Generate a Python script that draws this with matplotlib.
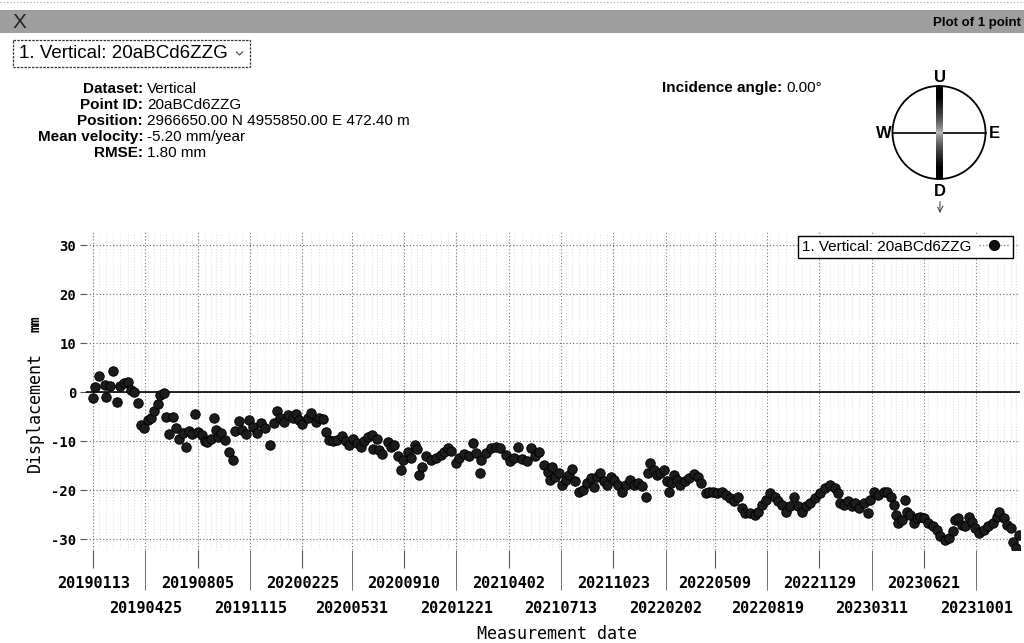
import matplotlib
matplotlib.use('Agg')
import matplotlib.pyplot as plt
import numpy as np
import pandas as pd
from matplotlib.lines import Line2D
from matplotlib.patches import Rectangle, Circle

# ---------------- data ----------------
start_date = "2019-01-13"

day_offsets = [
    0, 3, 12, 23, 25, 33, 38, 47, 53, 60, 68, 74, 80, 88, 93, 100, 106, 113, 119, 127,
    131, 139, 142, 148, 155, 162, 168, 175, 181, 187, 193, 199, 204, 213, 218, 222, 229, 235, 240, 244,
    249, 257, 265, 272, 276, 285, 291, 298, 304, 311, 319, 327, 335, 345, 352, 359, 364, 372, 380, 389,
    395, 402, 408, 418, 424, 434, 440, 449, 454, 460, 467, 476, 486, 492, 498, 507, 514, 522, 528, 535,
    543, 545, 553, 557, 564, 574, 580, 586, 594, 600, 605, 613, 619, 627, 632, 635, 642, 648, 658, 668,
    678, 684, 691, 697, 707, 713, 723, 733, 741, 746, 754, 757, 765, 775, 785, 794, 804, 812, 820, 828,
    837, 845, 853, 861, 869, 879, 886, 890, 895, 901, 908, 915, 921, 927, 934, 940, 947, 955, 963, 970,
    976, 983, 989, 996, 1002, 1009, 1016, 1023, 1031, 1038, 1046, 1054, 1062, 1070, 1077, 1081, 1086, 1093, 1099, 1106,
    1112, 1118, 1122, 1127, 1132, 1138, 1145, 1153, 1161, 1171, 1179, 1185, 1194, 1200, 1209, 1216, 1226, 1234, 1242, 1250,
    1258, 1265, 1271, 1281, 1291, 1297, 1304, 1312, 1320, 1330, 1336, 1343, 1351, 1359, 1367, 1375, 1382, 1390, 1398, 1408,
    1417, 1427, 1437, 1447, 1453, 1456, 1464, 1472, 1479, 1486, 1494, 1502, 1510, 1515, 1522, 1531, 1541, 1548, 1555, 1562,
    1565, 1570, 1576, 1583, 1586, 1593, 1600, 1606, 1612, 1620, 1628, 1637, 1645, 1652, 1661, 1669, 1676, 1680, 1687, 1693,
    1700, 1708, 1713, 1719, 1728, 1736, 1745, 1754, 1762, 1767, 1775, 1782, 1789, 1794, 1800, 1806,
]

displacement = [
    -1.1, 1.0, 3.4, 1.4, -0.9, 1.2, 4.4, -2.0, 1.3, 1.8, 2.0, 0.5, 0.0, -2.1, -6.7, -7.3, -5.6, -5.3, -3.9, -2.4,
    -0.5, -0.1, -5.1, -8.5, -5.1, -7.3, -9.5, -8.4, -11.1, -8.0, -8.5, -4.4, -8.2, -8.7, -9.9, -10.1, -9.5, -5.3, -7.7, -9.2,
    -8.4, -9.7, -12.3, -13.8, -8.0, -5.9, -7.7, -8.5, -5.6, -7.0, -8.4, -6.3, -7.3, -10.7, -6.3, -3.8, -5.3, -6.0, -4.6, -5.3,
    -4.5, -5.6, -6.5, -5.3, -4.3, -6.0, -5.3, -5.5, -8.2, -9.7, -10.0, -9.7, -8.9, -10.0, -10.7, -9.6, -10.3, -11.2, -10.0, -9.2,
    -8.7, -11.6, -9.5, -11.8, -12.6, -10.1, -11.2, -10.7, -13.1, -15.9, -13.8, -12.3, -13.5, -10.7, -11.6, -16.9, -15.2, -13.1, -13.8, -13.5,
    -12.8, -12.1, -11.4, -11.9, -14.5, -13.5, -12.6, -13.1, -10.3, -12.4, -16.4, -13.8, -12.4, -11.4, -11.2, -11.4, -12.8, -14.1, -13.5, -11.1,
    -13.7, -14.1, -11.4, -13.1, -12.1, -14.8, -16.2, -17.9, -15.2, -17.2, -16.5, -18.9, -17.9, -16.9, -15.7, -18.2, -20.3, -19.9, -18.6, -17.6,
    -19.3, -17.2, -16.5, -18.2, -18.9, -17.2, -17.9, -18.9, -20.3, -18.9, -18.0, -18.9, -18.6, -19.1, -21.4, -16.5, -14.5, -15.9, -16.9, -16.5,
    -15.9, -18.2, -20.3, -18.6, -16.9, -17.9, -18.9, -18.2, -17.6, -16.7, -17.2, -18.6, -20.6, -20.3, -20.3, -20.5, -20.3, -21.0, -21.6, -22.3,
    -21.3, -23.7, -24.6, -24.7, -25.0, -24.4, -23.0, -22.0, -20.6, -21.3, -22.3, -23.0, -24.4, -23.3, -21.4, -23.3, -24.4, -23.3, -22.7, -21.6,
    -20.6, -19.6, -18.9, -19.6, -20.6, -22.7, -23.0, -22.3, -23.3, -22.7, -23.7, -22.7, -24.7, -21.9, -20.3, -21.0, -20.3, -20.3, -21.3, -23.0,
    -25.0, -26.7, -26.1, -22.0, -24.4, -25.0, -26.7, -25.7, -25.4, -25.7, -26.6, -27.4, -28.1, -29.3, -30.1, -29.8, -28.4, -26.1, -25.7, -27.1,
    -27.4, -25.4, -26.4, -27.8, -28.8, -28.1, -27.4, -26.7, -25.4, -24.4, -25.7, -27.1, -27.8, -30.5, -31.8, -29.1,
]

row1_ticks = ["20190113", "20190805", "20200225", "20200910", "20210402",
              "20211023", "20220509", "20221129", "20230621"]
row2_ticks = ["20190425", "20191115", "20200531", "20201221", "20210713",
              "20220202", "20220819", "20230311", "20231001"]
y_ticks = [-30, -20, -10, 0, 10, 20, 30]

series_name = "1. Vertical: 20aBCd6ZZG"
info_labels = ["Dataset:", "Point ID:", "Position:", "Mean velocity:", "RMSE:"]
info_values = ["Vertical", "20aBCd6ZZG", "2966650.00 N 4955850.00 E 472.40 m",
               "-5.20 mm/year", "1.80 mm"]

# ---------------- figure ----------------
W, H = 1024, 643
fig = plt.figure(figsize=(W / 100, H / 100), dpi=100)
fig.patch.set_facecolor('white')

dates = pd.Timestamp(start_date) + pd.to_timedelta(day_offsets, unit='D')
t0 = pd.Timestamp(start_date)

ax_l, ax_r, ax_t, ax_b = 86, 1020, 232, 550
ax = fig.add_axes([ax_l / W, (H - ax_b) / H, (ax_r - ax_l) / W, (ax_b - ax_t) / H])

ylo, yhi = -32.2, 32.7
# dense vertical lines at each acquisition date
ax.vlines(dates[::2], ylo, yhi, colors='#cfcfcf', linestyles=(0, (1, 2.5)), linewidth=0.6, zorder=0)

ax.scatter(dates, displacement, s=46, c='#1c1c1c', edgecolors='black',
           linewidths=0.7, zorder=4)
ax.axhline(0, color='black', lw=1.2, zorder=3)

ax.set_ylim(ylo, yhi)
ax.set_xlim(t0 - pd.Timedelta(days=14), t0 + pd.Timedelta(days=1807))

ax.set_yticks(y_ticks)
ax.set_yticklabels([str(v) for v in y_ticks])
maj = pd.to_datetime(row1_ticks, format='%Y%m%d')
mnr = pd.to_datetime(row2_ticks, format='%Y%m%d')
ax.set_xticks(maj)
ax.set_xticklabels(row1_ticks)
ax.set_xticks(mnr, minor=True)
ax.set_xticklabels(row2_ticks, minor=True)

ax.grid(True, axis='y', ls=(0, (1, 2)), color='#666666', lw=0.8, zorder=1)
ax.grid(True, axis='x', which='both', ls=(0, (1, 2)), color='#777777', lw=0.8, zorder=1)
for s in ax.spines.values():
    s.set_visible(False)

ax.tick_params(axis='y', length=4, pad=3, color='#555555', labelsize=10)
ax.tick_params(axis='x', which='major', length=13, pad=6, color='#555555', labelsize=11)
ax.tick_params(axis='x', which='minor', length=29, pad=7.5, color='#555555', labelsize=11)
for lab in ax.get_xticklabels(which='both') + ax.get_yticklabels():
    lab.set_fontfamily('DejaVu Sans Mono')
    lab.set_fontweight('bold')

handle = Line2D([], [], color='#888888', ls=(0, (1, 1.5)), lw=1, marker='o', markersize=7,
                markerfacecolor='#111111', markeredgecolor='black')
leg = ax.legend([handle], [series_name], loc='upper right',
                bbox_to_anchor=(1 - 7 / (ax_r - ax_l), 1 - 4 / (ax_b - ax_t)),
                borderaxespad=0, fancybox=False, framealpha=1, edgecolor='black',
                markerfirst=False, handlelength=2.0, handletextpad=0.5, borderpad=0.25,
                prop={'family': 'Liberation Sans', 'size': 11})
leg.get_frame().set_linewidth(1.0)

# ---------------- overlay (pixel coordinates) ----------------
ov = fig.add_axes([0, 0, 1, 1], zorder=10)
ov.set_xlim(0, W)
ov.set_ylim(H, 0)
ov.axis('off')

# header band
ov.add_patch(Rectangle((0, 10), W, 23, facecolor='#9e9e9e', edgecolor='none'))
ov.plot([0, W], [1.5, 1.5], color='#999999', lw=0.8, ls=(0, (1, 2)))
ov.text(13, 22, 'X', fontsize=15, family='Liberation Sans', ha='left', va='center', color='#222222')
ov.text(1021, 23, 'Plot of 1 point', fontsize=9.5, family='Liberation Sans', fontweight='bold',
        ha='right', va='center', color='black')

# dropdown
ov.add_patch(Rectangle((13, 40), 237, 27, fill=False, edgecolor='#333333', lw=0.9, ls=(0, (2, 1))))
ov.text(19, 54, series_name, fontsize=13.5, family='Liberation Sans', ha='left', va='center')
ov.plot([236.5, 239.5, 242.5], [52, 55, 52], color='#555555', lw=0.9)

# info block
for i, (lab, val) in enumerate(zip(info_labels, info_values)):
    y = 89 + 16 * i
    ov.text(143, y, lab, fontsize=11, family='Liberation Sans', fontweight='bold', ha='right', va='center')
    ov.text(147, y, val, fontsize=11, family='Liberation Sans', ha='left', va='center')

ov.text(782, 88, 'Incidence angle:', fontsize=11, family='Liberation Sans', fontweight='bold',
        ha='right', va='center')
ov.text(786, 88, '0.00°', fontsize=11, family='Liberation Sans', ha='left', va='center')

# compass
cx, cy, r = 939, 132.5, 46.5
ov.plot([cx - r, cx + r], [cy, cy], color='black', lw=1.2, zorder=2)
grad = np.abs(np.linspace(-1, 1, 200)) ** 0.6
ov.imshow(grad[:, None], extent=(cx - 3.5, cx + 3.5, cy + r, cy - r), cmap='gray_r',
          vmin=-0.25, vmax=0.85, aspect='auto', zorder=3, interpolation='bilinear')
ov.add_patch(Circle((cx, cy), r, fill=False, edgecolor='black', lw=1.3, zorder=4))
ov.set_xlim(0, W)
ov.set_ylim(H, 0)
for txt, x, y in [('U', cx + 1, 77), ('D', cx + 1, 192), ('W', 884, 133), ('E', 994, 134)]:
    ov.text(x, y, txt, fontsize=12, family='Liberation Sans', fontweight='bold',
            ha='center', va='center')
ov.annotate('', xy=(cx + 1, 216), xytext=(cx + 1, 199),
            arrowprops=dict(arrowstyle='->', color='#444444', lw=0.9, ls=(0, (1, 1))))

# axis labels
ov.text(35, 412, 'Displacement', rotation=90, fontsize=12, family='DejaVu Sans Mono',
        ha='center', va='center')
ov.text(35, 324, 'mm', rotation=90, fontsize=10, family='DejaVu Sans Mono', fontweight='bold',
        ha='center', va='center')
ov.text(557, 634, 'Measurement date', fontsize=12, family='DejaVu Sans Mono',
        ha='center', va='center')

fig.savefig('out.png', dpi=100)
